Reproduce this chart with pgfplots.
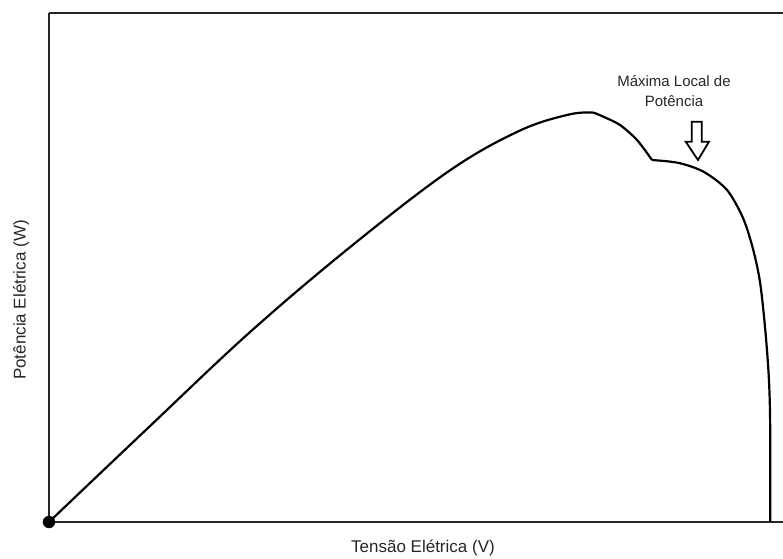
\documentclass[border=0pt]{standalone}
\usepackage{fontspec}
\setmainfont{Liberation Sans}
\usepackage{pgfplots}
\pgfplotsset{compat=1.18}
\begin{document}
\begin{tikzpicture}[x=1pt,y=1pt]
\useasboundingbox (0,0) rectangle (783,558);
\begin{axis}[
  at={(49pt,36pt)}, anchor=south west,
  scale only axis, width=734pt, height=509pt,
  xmin=0, xmax=734, ymin=0, ymax=509,
  axis line style={draw=none},
  ticks=none,
  clip=false,
  xlabel={Tensão Elétrica (V)},
  ylabel={Potência Elétrica (W)},
  label style={font=\fontsize{17}{20}\selectfont, text=black!85},
  xlabel style={at={(rel axis cs:0.5095,-0.051)}, anchor=center},
  ylabel style={at={(rel axis cs:-0.038,0.436)}, anchor=center},
]
% axis frame: left, top, bottom
\draw[line width=2pt, black!85] (rel axis cs:0,1) -- (rel axis cs:0,0) -- (rel axis cs:1,0);
\draw[line width=2pt, black!85] (rel axis cs:0,1) -- (rel axis cs:1,1);
% curve: rising part up to the global maximum
\addplot[black, line width=2.2pt, smooth, tension=0.6] coordinates {
(0,0) (100,95) (200,189) (300,274) (400,351) (470,391) (520,407.5) (545,409.3)
};
% descent to the kink
\addplot[black, line width=2.2pt, smooth, tension=0.5] coordinates {
(545,409.3) (555,405) (571,397) (588,382) (603,362)
};
% local maximum part and fall to zero
\addplot[black, line width=2.2pt, smooth, tension=0.5] coordinates {
(603,362) (630,359) (655,350) (678,332) (694,304) (704,273)
(711,240) (716,195) (719.5,150) (721,110) (721.3,50) (721.3,0)
};
% start point
\addplot[only marks, mark=*, mark size=6pt, black] coordinates {(0,0)};
% hollow arrow
\draw[line width=1.8pt, black, fill=white, line join=miter]
  (axis cs:642.7,400.3) -- (axis cs:652.7,400.3) -- (axis cs:652.7,380.3)
  -- (axis cs:660,380.3) -- (axis cs:649,362) -- (axis cs:636.7,380.3)
  -- (axis cs:642.7,380.3) -- cycle;
\node[align=center, font=\fontsize{15}{20}\selectfont, text=black!85]
  at (axis cs:625,431) {Máxima Local de\\Potência};
\end{axis}
\end{tikzpicture}
\end{document}
